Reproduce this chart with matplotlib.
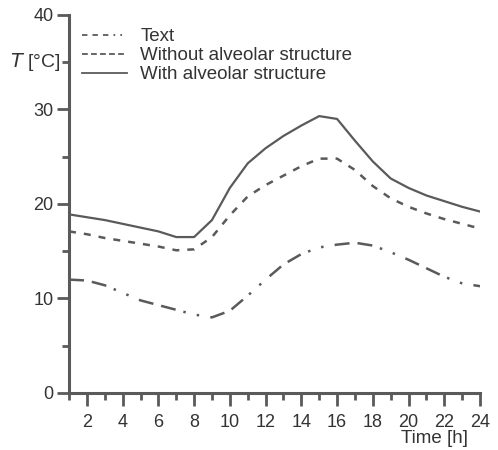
import numpy as np
import matplotlib
matplotlib.use('Agg')
import matplotlib.pyplot as plt
from matplotlib.lines import Line2D

plt.rcParams['font.family'] = ['Liberation Sans', 'DejaVu Sans']

hours = list(range(1, 25))
text_series = [12.0, 11.9, 11.4, 10.6, 9.8, 9.3, 8.8, 8.3, 8.0, 8.7, 10.3, 12.0,
               13.6, 14.7, 15.4, 15.7, 15.9, 15.6, 14.9, 14.1, 13.2, 12.3, 11.6, 11.3]
without_alveolar = [17.1, 16.8, 16.4, 16.1, 15.8, 15.5, 15.1, 15.2, 16.5, 18.8, 20.8, 22.0,
                    23.0, 24.0, 24.8, 24.8, 23.6, 21.9, 20.6, 19.7, 19.0, 18.4, 17.9, 17.4]
with_alveolar = [18.9, 18.6, 18.3, 17.9, 17.5, 17.1, 16.5, 16.5, 18.3, 21.7, 24.3, 25.9,
                 27.2, 28.3, 29.3, 29.0, 26.7, 24.5, 22.7, 21.7, 20.9, 20.3, 19.7, 19.2]
labels = ['Text', 'Without alveolar structure', 'With alveolar structure']
major_x = list(range(2, 25, 2))
major_y = [0, 10, 20, 30, 40]

col = '#5a5a5a'
txt = '#333333'
fig = plt.figure(figsize=(4.98, 4.5), dpi=100)
ax = fig.add_axes([0.1386, 0.1267, 0.8253, 0.84])

# dash, dash, dot, dot
ax.plot(hours, text_series, color=col, lw=1.8, dashes=(6, 3.2, 6, 3.2, 1, 4.5, 1, 4.5))
ax.plot(hours, without_alveolar, color=col, lw=1.8, dashes=(2.8, 3.2))
ax.plot(hours, with_alveolar, color=col, lw=1.6)

ax.set_xlim(1, 24)
ax.set_ylim(0, 40)
ax.set_xticks(major_x)
ax.set_xticks(range(1, 25, 2), minor=True)
ax.set_yticks(major_y)
ax.set_yticks([5, 15, 25, 35], minor=True)
for s in ['top', 'right']:
    ax.spines[s].set_visible(False)
for s in ['left', 'bottom']:
    ax.spines[s].set_color(col)
    ax.spines[s].set_linewidth(2.2)
ax.tick_params(which='major', length=9, width=2, color=col, labelsize=13, labelcolor=txt)
ax.tick_params(which='minor', length=5, width=2, color=col)
ax.tick_params(axis='x', which='major', pad=6)
ax.tick_params(axis='y', which='major', pad=2)

ax.text(-0.02, 35, r'$T$ [°C]', transform=ax.get_yaxis_transform(), ha='right', va='center',
        fontsize=14, color=txt)
ax.text(0.89, -0.097, 'Time [h]', transform=ax.transAxes, ha='center', va='top',
        fontsize=13.5, color=txt)

# legend handles drawn shorter so the pattern shows
handles = [Line2D([], [], color=col, lw=1.3, dashes=(3, 2.8, 3, 2.8, 3, 2.8, 1, 2.8, 1, 2.8)),
           Line2D([], [], color=col, lw=1.3, dashes=(3.2, 1.8)),
           Line2D([], [], color=col, lw=1.3)]
leg = ax.legend(handles, labels, loc='upper left', bbox_to_anchor=(0.0, 1.0), frameon=False,
                fontsize=13.5, handlelength=2.4, handletextpad=0.7, labelspacing=0.1,
                borderaxespad=0.3)
for t in leg.get_texts():
    t.set_color(txt)

fig.savefig('out.png', dpi=100)
